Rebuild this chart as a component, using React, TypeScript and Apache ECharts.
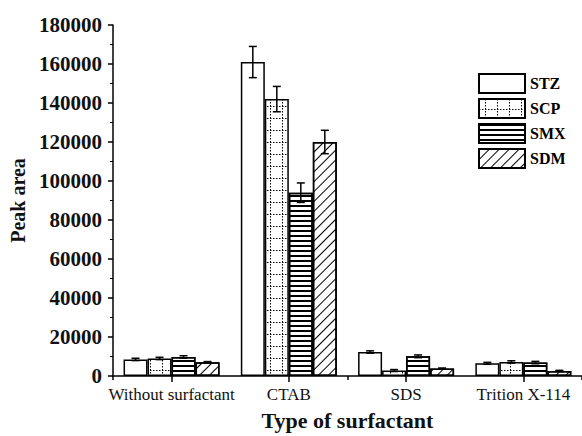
import React, { useEffect, useRef } from "react";
import * as echarts from "echarts";

const categories = ["Without surfactant", "CTAB", "SDS", "Trition X-114"];
const seriesNames = ["STZ", "SCP", "SMX", "SDM"];

const stzValues = [8500, 161000, 12300, 6500];
const scpValues = [9000, 142000, 2800, 7200];
const smxValues = [9800, 94000, 10100, 6900];
const sdmValues = [7000, 120000, 3800, 2600];

const stzErrors = [600, 8000, 600, 500];
const scpErrors = [600, 6500, 500, 600];
const smxErrors = [600, 5000, 700, 600];
const sdmErrors = [400, 6000, 300, 300];

const yTicks = [0, 20000, 40000, 60000, 80000, 100000, 120000, 140000, 160000, 180000];

const FONT = "'Liberation Serif', 'Times New Roman', serif";
const BAR_WIDTH = 24;

// dotted grid tile used as the SCP fill
function makeDottedGrid(): HTMLCanvasElement {
  const size = 12;
  const c = document.createElement("canvas");
  c.width = size;
  c.height = size;
  const ctx = c.getContext("2d")!;
  ctx.fillStyle = "#fff";
  ctx.fillRect(0, 0, size, size);
  ctx.fillStyle = "#000";
  for (let y = 0; y < size; y += 3) ctx.fillRect(6, y, 1, 1.5);
  for (let x = 0; x < size; x += 3) ctx.fillRect(x, 10, 1.5, 1);
  return c;
}

export default function App() {
  const ref = useRef<HTMLDivElement>(null);

  useEffect(() => {
    if (!ref.current) return;
    const chart = echarts.init(ref.current, null, { renderer: "svg" });

    const valueSets = [stzValues, scpValues, smxValues, sdmValues];
    const errorSets = [stzErrors, scpErrors, smxErrors, sdmErrors];

    const grid = makeDottedGrid();
    const fills: any[] = [
      "#fff",
      { image: grid, repeat: "repeat", imageWidth: 12, imageHeight: 12 },
      "#fff",
      "#fff",
    ];

    // hatch decals: horizontal lines for SMX, diagonal lines for SDM
    const decals: any[] = [
      undefined,
      undefined,
      {
        symbol: "rect",
        symbolSize: 1,
        color: "#000",
        backgroundColor: "#fff",
        dashArrayX: [1, 0],
        dashArrayY: [2, 3],
        rotation: 0,
      },
      {
        symbol: "rect",
        symbolSize: 1,
        color: "#000",
        backgroundColor: "#fff",
        dashArrayX: [1, 0],
        dashArrayY: [1, 6],
        rotation: -Math.PI / 4,
      },
    ];

    const barSeries = seriesNames.map((name, i) => ({
      name,
      type: "bar",
      xAxisIndex: 0,
      barWidth: BAR_WIDTH,
      barGap: "0%",
      data: valueSets[i],
      itemStyle: {
        color: fills[i],
        borderColor: "#000",
        borderWidth: 1.5,
        decal: decals[i],
      },
    }));

    const errorSeries = seriesNames.map((name, i) => ({
      name: name + " error",
      type: "custom",
      xAxisIndex: 0,
      z: 5,
      encode: { x: 0, y: 1 },
      data: valueSets[i].map((v, k) => [k, v, errorSets[i][k]]),
      renderItem: (params: any, api: any) => {
        const idx = api.value(0);
        const v = api.value(1);
        const e = api.value(2);
        const offset = (i - 1.5) * BAR_WIDTH;
        const hi = api.coord([idx, v + e]);
        const lo = api.coord([idx, v - e]);
        const x = hi[0] + offset;
        const cap = 4;
        const style = { stroke: "#000", lineWidth: 1.5 };
        return {
          type: "group",
          children: [
            { type: "line", shape: { x1: x, y1: hi[1], x2: x, y2: lo[1] }, style },
            { type: "line", shape: { x1: x - cap, y1: hi[1], x2: x + cap, y2: hi[1] }, style },
            { type: "line", shape: { x1: x - cap, y1: lo[1], x2: x + cap, y2: lo[1] }, style },
          ],
        };
      },
    }));

    chart.setOption({
      animation: false,
      backgroundColor: "#fff",
      grid: { left: 112, right: -4, top: 25, bottom: 59, containLabel: false },
      legend: {
        data: seriesNames,
        orient: "vertical",
        left: 473,
        top: 68,
        icon: "rect",
        itemWidth: 46,
        itemHeight: 19,
        itemGap: 4,
        textStyle: { fontFamily: FONT, fontWeight: "bold", fontSize: 16, color: "#000" },
      },
      xAxis: [
        {
          type: "category",
          data: categories,
          position: "bottom",
          axisLine: { show: true, lineStyle: { color: "#000", width: 1.5 } },
          axisTick: { show: true, alignWithLabel: true, length: 6, lineStyle: { color: "#000", width: 1.5 } },
          axisLabel: { fontFamily: FONT, fontSize: 17, color: "#111", margin: 10, interval: 0 },
          name: "Type of surfactant",
          nameLocation: "middle",
          nameGap: 33,
          nameTextStyle: { fontFamily: FONT, fontWeight: "bold", fontSize: 22, color: "#111" },
        },
        {
          // boundary ticks between category groups
          type: "category",
          data: categories,
          position: "bottom",
          axisLine: { show: false },
          axisTick: { show: true, alignWithLabel: false, length: 4, lineStyle: { color: "#000", width: 1.5 } },
          axisLabel: { show: false },
        },
      ],
      yAxis: {
        type: "value",
        min: yTicks[0],
        max: yTicks[yTicks.length - 1],
        interval: yTicks[1] - yTicks[0],
        axisLine: { show: true, lineStyle: { color: "#000", width: 1.5 } },
        axisTick: { show: true, length: 5, lineStyle: { color: "#000", width: 1.5 } },
        minorTick: { show: true, splitNumber: 2, length: 3, lineStyle: { color: "#000", width: 1 } },
        splitLine: { show: false },
        axisLabel: {
          fontFamily: FONT,
          fontWeight: "bold",
          fontSize: 21,
          color: "#111",
          margin: 11,
          formatter: (v: number) => String(v),
        },
        name: "Peak area",
        nameLocation: "middle",
        nameGap: 83,
        nameTextStyle: { fontFamily: FONT, fontWeight: "bold", fontSize: 20, color: "#111" },
      },
      series: [...barSeries, ...errorSeries],
    });

    return () => chart.dispose();
  }, []);

  return (
    <div
      ref={ref}
      style={{ position: "absolute", left: 0, top: 0, width: 582, height: 436, background: "#fff" }}
    />
  );
}
